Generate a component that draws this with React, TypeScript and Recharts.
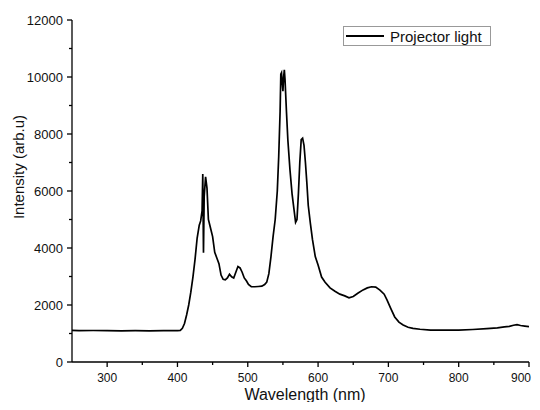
import { LineChart, Line, XAxis, YAxis, Legend } from 'recharts';

// spectrum (wavelength in nm, intensity in arb. units)
const wavelengths = [
  250, 260, 280, 300, 320, 340, 360, 380, 400, 404, 407, 410, 413, 416, 419, 422, 425, 428, 431, 433,
  435, 436, 437, 438, 440, 442, 444, 447, 450, 453, 456, 459, 462, 465, 468, 471, 474, 477, 480, 483,
  486, 489, 492, 495, 498, 501, 505, 510, 515, 520, 524, 527, 530, 533, 536, 539, 542, 544, 546, 547,
  548, 549, 550, 551, 552, 553, 555, 557, 560, 563, 566, 568, 570, 572, 574, 576, 578, 580, 582, 584,
  586, 589, 592, 596, 600, 605, 610, 617, 624, 631, 638, 644, 650, 657, 664, 670, 676, 682, 688, 694,
  698, 703, 709, 715, 721, 728, 735, 745, 760, 780, 800, 820, 840, 855, 865, 872, 878, 883, 888, 894,
  900,
];
const intensities = [
  1110, 1100, 1105, 1100, 1095, 1100, 1095, 1100, 1100, 1110, 1180, 1350, 1650, 2000, 2450, 2980, 3600, 4350, 4800, 4950,
  5300, 6600, 3830, 5800, 6500, 6100, 5000, 4700, 4400, 3850, 3650, 3450, 3050, 2900, 2880, 2950, 3080, 2990, 2950, 3150,
  3350, 3300, 3150, 2950, 2850, 2720, 2640, 2640, 2650, 2660, 2720, 2800, 3100, 3700, 4400, 5000, 6000, 7200, 8800, 10100,
  10150, 9800, 9500, 10000, 10250, 9900, 8800, 7800, 6750, 5900, 5300, 4900, 5000, 5900, 7000, 7800, 7850, 7600, 7000, 6300,
  5500, 4870, 4300, 3700, 3400, 2980, 2800, 2600, 2480, 2380, 2320, 2250, 2300, 2420, 2530, 2600, 2640, 2630, 2520, 2380,
  2180, 1900, 1580, 1400, 1300, 1220, 1180, 1150, 1120, 1115, 1120, 1140, 1170, 1200, 1230, 1250, 1290, 1310, 1280, 1260,
  1240,
];

const xTicks = [300, 350, 400, 450, 500, 550, 600, 650, 700, 750, 800, 850, 900];
const yTicks = [0, 1000, 2000, 3000, 4000, 5000, 6000, 7000, 8000, 9000, 10000, 11000, 12000];

const seriesName = 'Projector light';
const xTitle = 'Wavelength (nm)';
const yTitle = 'Intensity (arb.u)';

const data = wavelengths.map((w, i) => ({ w, v: intensities[i] }));

const font = '"Liberation Sans", Arial, sans-serif';

// tickSize/tickMargin are 0, so x/y here sit right on the axis line
function XTick({ x, y, payload }: any) {
  const major = payload.value % 100 === 0;
  const last = payload.value === 900;
  return (
    <g>
      <line x1={x} x2={x} y1={y} y2={y + (major ? 5 : 3)} stroke="#000" strokeWidth={1.3} />
      {major && (
        <text
          x={last ? x + 2 : x}
          y={y + 20}
          textAnchor={last ? 'end' : 'middle'}
          fontSize={12}
          fontFamily={font}
          fill="#111"
        >
          {payload.value}
        </text>
      )}
    </g>
  );
}

function YTick({ x, y, payload }: any) {
  const major = payload.value % 2000 === 0;
  return (
    <g>
      <line x1={x} x2={x - (major ? 5 : 3)} y1={y} y2={y} stroke="#000" strokeWidth={1.3} />
      {major && (
        <text x={x - 9} y={y + 5} textAnchor="end" fontSize={13} fontFamily={font} fill="#111">
          {payload.value}
        </text>
      )}
    </g>
  );
}

function LegendBox() {
  return (
    <div
      style={{
        border: '1px solid #999',
        background: '#fff',
        display: 'flex',
        alignItems: 'center',
        height: 18,
        width: 146,
        fontFamily: font,
        fontSize: 15,
        color: '#111',
      }}
    >
      <span style={{ display: 'inline-block', width: 38, height: 0, borderTop: '2px solid #000', marginLeft: 2, marginRight: 6 }} />
      <span>{seriesName}</span>
    </div>
  );
}

export default function App() {
  return (
    <div style={{ width: 532, height: 394, position: 'relative' }}>
      <style>{'.recharts-surface { overflow: visible; }'}</style>
      <LineChart width={532} height={394} data={data} margin={{ top: 12, right: 11, left: 0, bottom: 0 }}>
        <XAxis
          dataKey="w"
          type="number"
          domain={[250, 900]}
          ticks={xTicks}
          allowDataOverflow
          height={40}
          tickSize={0}
          tickMargin={0}
          tickLine={false}
          tick={<XTick />}
          axisLine={{ stroke: '#000', strokeWidth: 1.3 }}
          interval={0}
          label={({ viewBox }: any) => (
            <text x={297} y={viewBox.y + 38} textAnchor="middle" fontSize={16} fontFamily={font} fill="#111">
              {xTitle}
            </text>
          )}
        />
        <YAxis
          type="number"
          domain={[0, 12000]}
          ticks={yTicks}
          width={64}
          tickSize={0}
          tickMargin={0}
          tickLine={false}
          tick={<YTick />}
          axisLine={{ stroke: '#000', strokeWidth: 1.3 }}
          interval={0}
          label={() => (
            <text
              x={10}
              y={159}
              transform="rotate(-90 10 159)"
              textAnchor="middle"
              dominantBaseline="central"
              fontSize={15}
              fontFamily={font}
              fill="#111"
            >
              {yTitle}
            </text>
          )}
        />
        <Legend
          layout="horizontal"
          verticalAlign="middle"
          align="center"
          content={() => <LegendBox />}
          wrapperStyle={{ position: 'absolute', top: 18, left: 335, width: 'auto', height: 'auto' }}
        />
        <Line
          type="linear"
          dataKey="v"
          name={seriesName}
          stroke="#000"
          strokeWidth={1.7}
          dot={false}
          isAnimationActive={false}
        />
      </LineChart>
    </div>
  );
}
